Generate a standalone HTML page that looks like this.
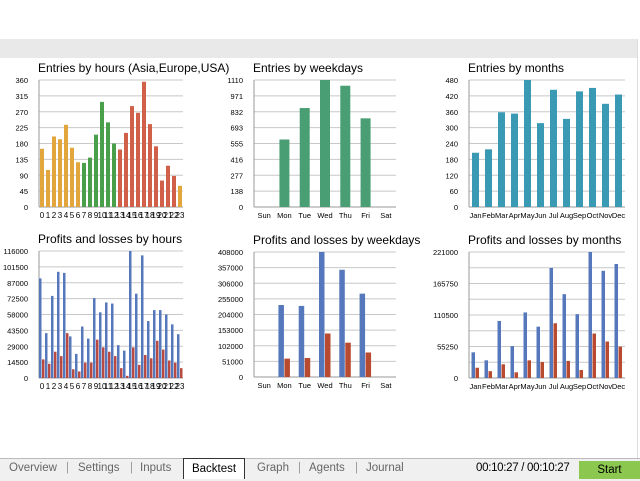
<!DOCTYPE html>
<html><head><meta charset="utf-8"><style>
body{margin:0;width:640px;height:480px;overflow:hidden;background:#fff;font-family:"Liberation Sans",sans-serif;position:relative}
#band{position:absolute;left:0;top:39px;width:637px;height:19px;background:#e9e9e9}
#vline{position:absolute;left:637px;top:39px;width:1px;height:420px;background:#ddd}
#tabs{position:absolute;left:0;top:458px;width:640px;height:22px;background:#f0f0f0;border-top:1px solid #bbb;font-size:11.5px;color:#666}
#tabs span{position:absolute;top:3px}
.sep{color:#999}
</style></head><body>
<div id="band"></div><div id="vline"></div>
<svg id="s" width="640" height="480" style="position:absolute;left:0;top:0"></svg>
<div id="tabs">
<span style="left:9px">Overview</span><span class="sep" style="left:66px">|</span>
<span style="left:78px">Settings</span><span class="sep" style="left:130px">|</span>
<span style="left:140px">Inputs</span>
<span style="left:183px;top:-1px;height:20px;width:60px;background:#fff;border:1px solid #333;border-bottom:none;color:#000;text-align:center;line-height:20px">Backtest</span>
<span style="left:257px">Graph</span><span class="sep" style="left:298px">|</span>
<span style="left:309px">Agents</span><span class="sep" style="left:355px">|</span>
<span style="left:366px">Journal</span>
<span style="left:476px;color:#000;letter-spacing:-0.3px">00:10:27 / 00:10:27</span>
<span style="left:579px;top:2px;width:61px;height:18px;background:#8cc850;color:#000;text-align:center;line-height:18px">Start</span>
</div>
<script>
const s=document.getElementById('s');let h='';
function chart(o){
 const {x0,x1,y0,y1,max,ticks,title,labels,series,colors,bw,lblFs}=o;
 h+=`<text x="${x0-1}" y="${y0-8}" font-size="12" fill="#000">${title}</text>`;
 for(let i=0;i<=8;i++){const y=y1-(y1-y0)*i/8;
  h+=`<line x1="${x0}" x2="${x1}" y1="${y}" y2="${y}" stroke="${i?'#c8c8c8':'#999'}" stroke-width="1"/>`;
  h+=`<text x="${x0-11}" y="${y+3}" font-size="7.5" text-anchor="end" fill="#000">${ticks[i]}</text>`;}
 h+=`<line x1="${x0}" x2="${x0}" y1="${y0}" y2="${y1}" stroke="#999"/>`;
 const n=labels.length,w=(x1-x0)/n;
 for(let i=0;i<n;i++){
  const cx=x0+w*i+w/2;
  h+=`<text x="${cx}" y="${y1+11}" font-size="${lblFs}" text-anchor="middle" fill="#000">${labels[i]}</text>`;
  const k=series.length;
  series.forEach((sr,j)=>{const v=sr[i];if(!v)return;const bh=(y1-y0)*v/max;
   const bx=cx-(k*bw)/2+j*bw;
   const c=typeof colors[j]==='function'?colors[j](i):colors[j];
   h+=`<rect x="${bx}" y="${y1-bh}" width="${bw-(k>1?0.5:0)}" height="${bh}" fill="${c}"/>`;});
 }
}
const hc=i=>i<=6||i==23?'#e3a63c':i<=12?'#4aa04a':'#d0604a';
const tk=(m)=>Array.from({length:9},(_,i)=>Math.round(m*i/8));
chart({x0:39,x1:183,y0:80,y1:207,max:360,ticks:tk(360),title:'Entries by hours (Asia,Europe,USA)',
 labels:[...Array(24).keys()],lblFs:8,bw:4,colors:[hc],
 series:[[165,105,200,192,233,168,127,125,140,205,298,240,180,163,210,286,267,355,235,172,75,117,88,60]]});
chart({x0:254,x1:396,y0:80,y1:207,max:1110,ticks:[0,138,277,416,555,693,832,971,1110],title:'Entries by weekdays',
 labels:['Sun','Mon','Tue','Wed','Thu','Fri','Sat'],lblFs:7.5,bw:10,colors:['#4a9e74'],
 series:[[0,590,865,1110,1060,775,0]]});
chart({x0:469,x1:625,y0:80,y1:207,max:480,ticks:tk(480),title:'Entries by months',
 labels:['Jan','Feb','Mar','Apr','May','Jun','Jul','Aug','Sep','Oct','Nov','Dec'],lblFs:7.5,bw:7,colors:['#3a9ab4'],
 series:[[205,218,358,353,480,317,443,333,437,450,390,425]]});
chart({x0:39,x1:183,y0:251,y1:378,max:116000,ticks:[0,14500,29000,43500,58000,72500,87000,101500,116000],title:'Profits and losses by hours',
 labels:[...Array(24).keys()],lblFs:8,bw:3,colors:['#5577bb','#b84a44'],
 series:[[91000,41000,75000,97000,96000,38000,22000,47000,36000,73000,60000,69000,68000,30000,25000,116000,77000,112000,52000,62000,62000,58000,49000,40000],
 [17000,13000,24000,20000,41000,8000,6000,14000,14000,35000,28000,24000,20000,9000,2000,28000,12000,21000,18000,34000,26000,16000,14000,9000]]});
chart({x0:254,x1:396,y0:252,y1:377,max:408000,ticks:[0,51000,102000,153000,204000,255000,306000,357000,408000],title:'Profits and losses by weekdays',
 labels:['Sun','Mon','Tue','Wed','Thu','Fri','Sat'],lblFs:7.5,bw:6,colors:['#5577bb','#b84a30'],
 series:[[0,235000,232000,408000,350000,272000,0],[0,60000,62000,142000,112000,80000,0]]});
chart({x0:469,x1:625,y0:252,y1:378,max:221000,ticks:['0','','55250','','110500','','165750','','221000'],title:'Profits and losses by months',
 labels:['Jan','Feb','Mar','Apr','May','Jun','Jul','Aug','Sep','Oct','Nov','Dec'],lblFs:7.5,bw:4,colors:['#5577bb','#b84a30'],
 series:[[45000,31000,100000,56000,115000,90000,193000,147000,112000,221000,188000,200000],[18000,12000,24000,10000,31000,28000,96000,30000,14000,78000,64000,55000]]});
s.innerHTML=h;
</script>
</body></html>
